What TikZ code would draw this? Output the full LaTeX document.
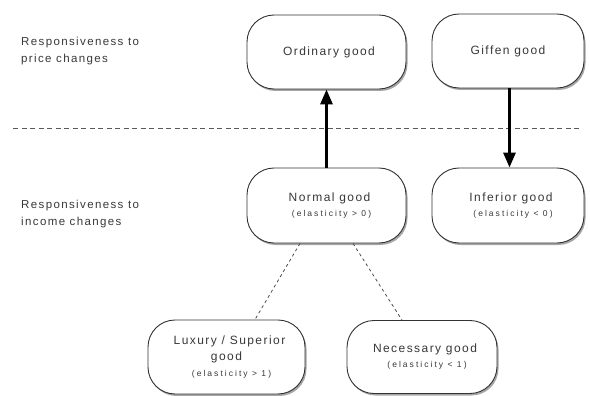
\documentclass[tikz,border=0pt]{standalone}
\usepackage{fontspec}
\setmainfont{Liberation Sans}
\newfontfamily\labfont[LetterSpace=12]{Liberation Sans}
\newfontfamily\smlfont[LetterSpace=24]{Liberation Sans}
\usetikzlibrary{arrows.meta,shadows}
\begin{document}
\begin{tikzpicture}[x=1pt,y=-1pt,
  goodbox/.style={draw=black!80, line width=0.9pt, rounded corners=27pt, fill=white,
    drop shadow={shadow xshift=1.5pt, shadow yshift=-2pt, opacity=0.35, fill=black},
    align=center, inner sep=0pt, text=black!78,
    font=\fontsize{12}{15}\selectfont\labfont},
  sidelabel/.style={anchor=west, align=left, inner sep=0pt, text=black!78,
    font=\fontsize{11.5}{17}\selectfont\labfont},
  bigarrow/.style={line width=3pt, -{Triangle[length=15pt,width=12pt]}},
  thindash/.style={draw=black!70, line width=0.8pt, dash pattern=on 3pt off 3pt},
  divider/.style={draw=black!65, line width=0.7pt, dash pattern=on 5pt off 3.5pt}]
\useasboundingbox (0,0) rectangle (590,396);
\newcommand{\smalltxt}[1]{{\fontsize{8.5}{15}\selectfont\smlfont #1}}

\coordinate (dl) at (13,128);
\coordinate (dr) at (580,128);
\draw[divider] (dl) -- (dr);

\node[sidelabel] (lp) at (21,51.5) {Responsiveness to\\price changes};
\node[sidelabel] (li) at (21,214) {Responsiveness to\\income changes};

\node[goodbox, minimum width=159pt, minimum height=74pt] (ord) at (326.5,52) {\hspace*{5pt}Ordinary good};
\node[goodbox, minimum width=152pt, minimum height=74pt] (gif) at (508,51) {Giffen good};
\node[goodbox, minimum width=159pt, minimum height=75pt] (norm) at (326.5,205.5)
  {\hspace*{6pt}Normal good\\\hspace*{10pt}\smalltxt{(elasticity > 0)}};
\node[goodbox, minimum width=152pt, minimum height=75pt] (inf) at (508,205.5)
  {\hspace*{6pt}Inferior good\\\hspace*{10pt}\smalltxt{(elasticity < 0)}};
\node[goodbox, minimum width=157pt, minimum height=74pt] (lux) at (226.5,357)
  {\hspace*{6pt}Luxury / Superior\\[1pt]good\\[1pt]\hspace*{10pt}\smalltxt{(elasticity > 1)}};
\node[goodbox, minimum width=150pt, minimum height=73pt] (nec) at (422,357)
  {\hspace*{6pt}Necessary good\\\hspace*{10pt}\smalltxt{(elasticity < 1)}};

\draw[bigarrow] (norm.north) -- (ord.south);
\draw[bigarrow] ([xshift=1.5pt]gif.south) -- ([xshift=1.5pt]inf.north);

\draw[thindash] ([xshift=-26.5pt]norm.south) -- ([xshift=28.5pt]lux.north);
\draw[thindash] ([xshift=26.5pt]norm.south) -- ([xshift=-20pt]nec.north);
\end{tikzpicture}
\end{document}
